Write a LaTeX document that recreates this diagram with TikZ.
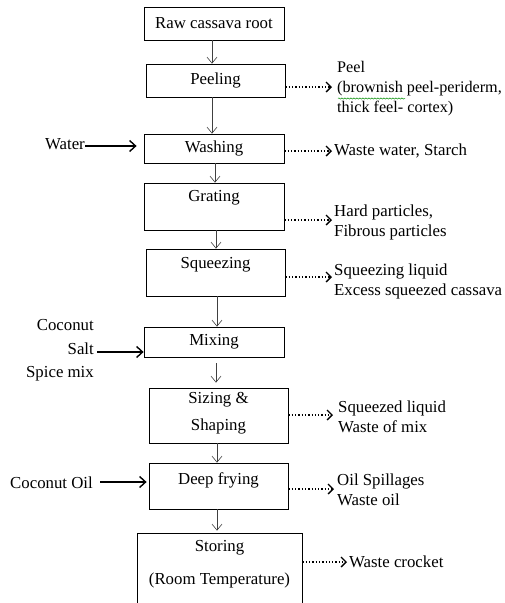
\documentclass[tikz,border=0pt]{standalone}
\usepackage{fontspec}
\setmainfont{Liberation Serif}
\usetikzlibrary{arrows.meta,decorations.pathmorphing}
\begin{document}
\begin{tikzpicture}[x=1pt,y=-1pt,
  font=\fontsize{16.8}{20}\selectfont,
  box/.style={draw, line width=0.8pt, inner sep=0pt},
  txt/.style={inner sep=0pt, align=center},
  flow/.style={draw=black!75, line width=0.6pt, -{Straight Barb[length=6pt,width=10pt,line width=0.6pt]}},
  feed/.style={line width=1.4pt, -{Straight Barb[length=6pt,width=11pt,line width=1.4pt]}},
  waste/.style={line width=1.3pt, dotted, -{Straight Barb[length=5pt,width=10pt,line width=1.3pt]}},
  outtxt/.style={inner sep=0pt, align=left, anchor=west},
  intxt/.style={inner sep=0pt, align=right, anchor=east}]
\useasboundingbox (0,0) rectangle (505,603);
% process boxes
\node[box, minimum width=140pt, minimum height=33pt] (raw)   at (214,23.5)  {Raw cassava root};
\node[box, minimum width=139pt, minimum height=33pt] (peel)  at (215.5,80.5) {Peeling};
\node[box, minimum width=140pt, minimum height=29pt] (wash)  at (214,148.5) {Washing};
\node[box, minimum width=140pt, minimum height=47pt] (grat)  at (214,206.5) {};
\node[box, minimum width=139pt, minimum height=47pt] (sque)  at (215.5,272.5) {};
\node[box, minimum width=140pt, minimum height=30pt] (mix)   at (214,342) {Mixing};
\node[box, minimum width=139pt, minimum height=55pt] (size)  at (218.5,415.5) {};
\node[box, minimum width=139pt, minimum height=46pt] (deep)  at (218.5,486) {};
\node[box, minimum width=165pt, minimum height=80pt] (store) at (219.5,573) {};
% texts inside boxes
\node[txt] (gratt)  at (214,198) {Grating};
\node[txt] (squet)  at (215.5,265) {Squeezing};
\node[txt] (sizet)  at (218.5,413) {Sizing \&\\[7pt]Shaping};
\node[txt] (deept)  at (218.5,480) {Deep frying};
\node[txt] (storet) at (219.5,564) {Storing\\[13pt](Room Temperature)};
% main flow
\draw[flow] ([xshift=-2pt]raw.south) -- ([xshift=-2pt]raw.south |- peel.north);
\draw[flow] ([xshift=-3.5pt]peel.south) -- ([xshift=-3.5pt]peel.south |- wash.north);
\draw[flow] ([xshift=1pt]wash.south) -- ([xshift=1pt]wash.south |- grat.north);
\draw[flow] ([xshift=2pt]grat.south) -- ([xshift=2pt]grat.south |- sque.north);
\draw[flow] ([xshift=1.5pt]sque.south) -- ([xshift=1.5pt]sque.south |- mix.north);
\draw[flow, shorten <=6pt, shorten >=5pt] ([xshift=2pt]mix.south) -- ([xshift=2pt]mix.south |- size.north);
\draw[flow] ([xshift=-1.5pt]size.south) -- ([xshift=-1.5pt]size.south |- deep.north);
\draw[flow, shorten >=2pt] ([xshift=-1.5pt]deep.south) -- ([xshift=-1.5pt]deep.south |- store.north);
% inputs
\node[intxt] (water) at (85,144) {Water};
\node[intxt] (mixin) at (94,350.5) {Coconut\\[3.5pt]Salt\\[3.5pt]Spice mix};
\node[intxt] (oil)   at (93,483) {Coconut Oil};
\draw[feed, shorten >=7pt] ([yshift=-2pt]water.east) -- ([yshift=-2pt]wash.west |- water.east);
\draw[feed, shorten <=3pt] ([yshift=-1.5pt]mixin.east) -- ([yshift=-1.5pt]mix.west |- mixin.east);
\draw[feed, shorten <=7pt, shorten >=2pt] ([yshift=1pt]oil.east) -- ([yshift=1pt]deep.west |- oil.east);
% wastes
\node[outtxt, font=\fontsize{16.2}{20}\selectfont] (peelout)  at (337,89) {Peel\\(brownish peel-periderm,\\thick feel- cortex)};
\node[outtxt] (washout)  at (334,151) {Waste water, Starch};
\node[outtxt] (gratout)  at (334,222) {Hard particles,\\Fibrous particles};
\node[outtxt] (squeout)  at (334,281) {Squeezing liquid\\Excess squeezed cassava};
\node[outtxt] (sizeout)  at (338,416.5) {Squeezed liquid\\Waste of mix};
\node[outtxt] (deepout)  at (337,490) {Oil Spillages\\Waste oil};
\node[outtxt] (storeout) at (349,562) {Waste crocket};
\draw[waste, shorten >=5pt] ([yshift=2pt]peel.east |- peelout.west) -- ([yshift=2pt]peelout.west);
\draw[waste, shorten >=2pt] (wash.east |- washout.west) -- (washout.west);
\draw[waste, shorten >=2pt] ([yshift=2pt]grat.east |- gratout.west) -- ([yshift=2pt]gratout.west);
\draw[waste, shorten >=2pt] ([yshift=4pt]sque.east |- squeout.west) -- ([yshift=4pt]squeout.west);
\draw[waste, shorten >=5pt] ([yshift=1.5pt]size.east |- sizeout.west) -- ([yshift=1.5pt]sizeout.west);
\draw[waste, shorten >=3pt] ([yshift=1pt]deep.east |- deepout.west) -- ([yshift=1pt]deepout.west);
\draw[waste, shorten >=2pt] (store.east |- storeout.west) -- (storeout.west);
% spell-check underline
\draw[green!55!black, line width=0.5pt, decorate, decoration={snake, amplitude=0.6pt, segment length=3pt}] (338,98.5) -- (405,98.5);
\end{tikzpicture}
\end{document}
